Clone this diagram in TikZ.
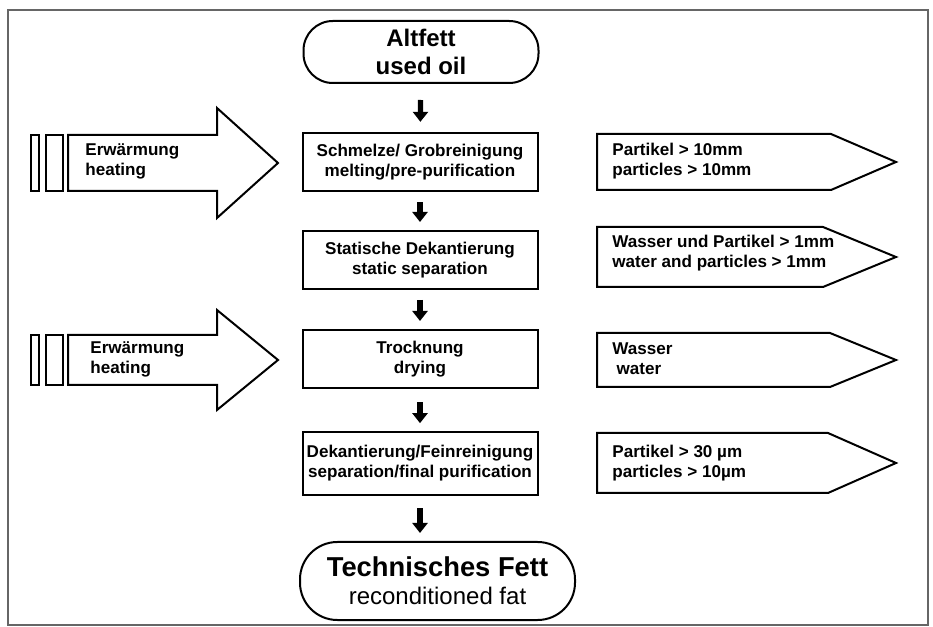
\documentclass[tikz,border=0pt]{standalone}
\usepackage{fontspec}
\setmainfont{Liberation Sans}
\usetikzlibrary{arrows.meta}

\begin{document}
\begin{tikzpicture}[x=0.75pt,y=-0.75pt,semithick,
                    flow/.style={-{Triangle[width=11.25pt,length=7.5pt]},line width=4pt,
                                 shorten <=7.5pt,shorten >=6pt}]
  \tikzstyle{stepbox}=[draw,line width=1.5pt,minimum width=176.25pt,minimum height=43.5pt,
                       align=center,inner sep=1pt,font=\fontsize{12.8}{15}\selectfont\bfseries]
  \tikzstyle{terminal}=[draw,line width=1.5pt,align=center,inner sep=1pt]
  \tikzstyle{sidetext}=[anchor=west,align=left,inner sep=0pt,font=\fontsize{12.8}{15}\selectfont\bfseries]
  \tikzstyle{outline}=[line width=1.5pt,line join=miter]

  \useasboundingbox (0,0) rectangle (933,627);
  \draw[gray!80!black,line width=1.5pt] (8,10) rectangle (928,625);

  % main chain
  \node[terminal,minimum width=176.25pt,minimum height=46.5pt,rounded corners=22pt,
        font=\fontsize{18}{21}\selectfont\bfseries] (alt) at (421,52) {Altfett\\used oil};
  \node[stepbox] (melt)   at (420,162.5) {Schmelze/ Grobreinigung\\melting/pre-purification};
  \node[stepbox] (settle) at (420,260)   {Statische Dekantierung\\static separation};
  \node[stepbox] (dry)    at (420,359)   {Trocknung\\drying};
  \node[stepbox,minimum height=47pt] (fine) at (420,463.5) {Dekantierung/Feinreinigung\\separation/final purification};
  \node[terminal,minimum width=206.25pt,minimum height=58.5pt,rounded corners=28pt,
        font=\fontsize{18}{20}\selectfont] (fat) at (437.5,581)
        {{\fontsize{20.5}{20}\selectfont\bfseries Technisches Fett}\\[1pt]reconditioned fat};

  \draw[flow,shorten <=12pt,shorten >=8pt] (alt) -- (melt);
  \draw[flow] (melt) -- (settle);
  \draw[flow] (settle) -- (dry);
  \draw[flow,shorten <=10pt] (dry) -- (fine);
  \draw[flow,shorten <=9.5pt] (fine) -- (fine |- fat.north);

  % heating
  \foreach \c/\b/\h in {163/28/55,360/25/50}{
    \draw[outline] (31,\c-\b) rectangle (39,\c+\b);
    \draw[outline] (46,\c-\b) rectangle (63,\c+\b);
    \draw[outline] (68,\c-\b) -- (217,\c-\b) -- (217,\c-\h) -- (278,\c)
                   -- (217,\c+\h) -- (217,\c+\b) -- (68,\c+\b) -- cycle;
  }
  \node[sidetext] (heat1) at (85,161) {Erwärmung\\heating};
  \node[sidetext] (heat2) at (90,359) {Erwärmung\\heating};

  % separated matter
  \foreach \c/\t/\s in {162/134/831,257/227/823,360/333/830,463/433/828}{
    \draw[outline] (597,\t) -- (\s,\t) -- (896,\c) -- (\s,2*\c-\t) -- (597,2*\c-\t) -- cycle;
  }
  \node[sidetext] (out1) at (612,161) {Partikel > 10mm\\particles > 10mm};
  \node[sidetext] (out2) at (612,253) {Wasser und Partikel > 1mm\\water and particles > 1mm};
  \node[sidetext] (out3) at (612,359) {Wasser\\\hspace*{0.25em}water};
  \node[sidetext] (out4) at (612,463) {Partikel > 30 µm\\particles > 10µm};
\end{tikzpicture}
\end{document}
